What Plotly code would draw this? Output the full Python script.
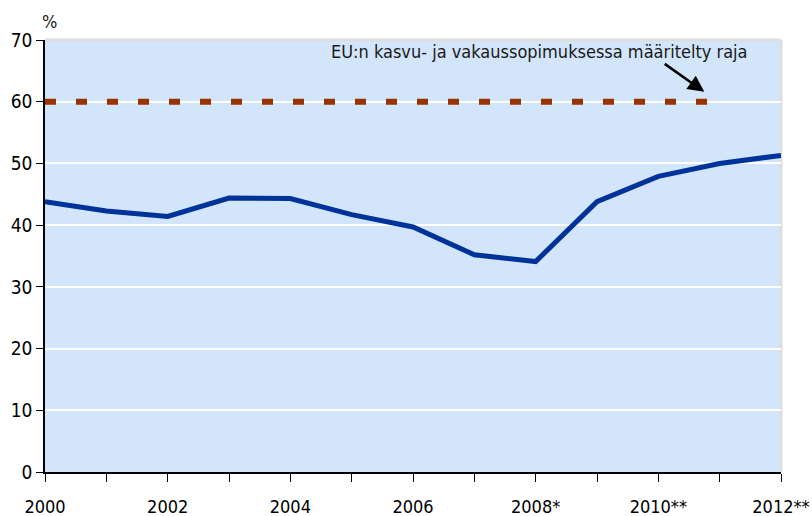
import plotly.graph_objects as go

# julkisen velan suhde BKT:hen, %
years = [2000, 2001, 2002, 2003, 2004, 2005, 2006, 2007, 2008, 2009, 2010, 2011, 2012]
debt = [43.8, 42.3, 41.4, 44.4, 44.3, 41.7, 39.7, 35.2, 34.1, 43.8, 47.9, 50.0, 51.3]

limit_years = [2000, 2011]
limit = [60, 60]

tick_years = years
tick_labels = ['2000', '', '2002', '', '2004', '', '2006', '', '2008*', '', '2010**', '', '2012**']

note = 'EU:n kasvu- ja vakaussopimuksessa määritelty raja'

font_family = 'DejaVu Sans Condensed, Liberation Sans Narrow, sans-serif'

fig = go.Figure()

fig.add_trace(go.Scatter(
    x=limit_years, y=limit, mode='lines',
    line=dict(color='#993300', width=6, dash='11px,20px'),
    showlegend=False, hoverinfo='skip'
))

fig.add_trace(go.Scatter(
    x=years, y=debt, mode='lines',
    line=dict(color='#003399', width=5),
    showlegend=False
))

# tekstinä selite ja nuoli
fig.add_annotation(x=2008.07, y=68.1, text=note, showarrow=False,
                   font=dict(size=18, color='#1a1a1a', family=font_family))
fig.add_annotation(x=2010.75, y=61.6, ax=2010.08, ay=66.3, axref='x', ayref='y',
                   text='', showarrow=True, arrowhead=2, arrowsize=1.3,
                   arrowwidth=2.5, arrowcolor='black')
fig.add_annotation(x=0.006, y=1.042, xref='paper', yref='paper', text='%',
                   showarrow=False, xanchor='center', yanchor='middle',
                   font=dict(size=18, color='#1a1a1a', family=font_family))

fig.update_xaxes(range=[2000, 2012], tickvals=tick_years, ticktext=tick_labels,
                 ticks='outside', ticklen=8, tickcolor='black', tickwidth=1,
                 showline=True, linecolor='black', linewidth=1.5,
                 showgrid=False, zeroline=False, ticklabelstandoff=10,
                 automargin=False,
                 tickfont=dict(size=18, color='black', family=font_family))
fig.update_yaxes(range=[0, 70], tickvals=[0, 10, 20, 30, 40, 50, 60, 70],
                 ticks='outside', ticklen=7, tickcolor='black', tickwidth=1,
                 showline=True, linecolor='black', linewidth=1.5,
                 showgrid=True, gridcolor='white', gridwidth=1.5, zeroline=False,
                 automargin=False,
                 tickfont=dict(size=19, color='black', family=font_family))

# harmaa reunus ylhäällä ja oikealla
fig.add_shape(type='line', xref='paper', yref='paper', x0=0, x1=1, y0=1, y1=1,
              line=dict(color='#DDDDDD', width=3), layer='below')
fig.add_shape(type='line', xref='paper', yref='paper', x0=1, x1=1, y0=0, y1=1,
              line=dict(color='#DDDDDD', width=3), layer='below')

fig.update_layout(
    width=812, height=516,
    margin=dict(l=45, r=31, t=40, b=44),
    plot_bgcolor='#D3E5FA', paper_bgcolor='white',
    font=dict(family=font_family)
)

# sivun oletusreunus pois, jotta kuva täyttää ikkunan
fig.write_html("out.html", config={'displayModeBar': False},
               post_script="document.body.style.margin='0';document.body.style.overflow='hidden';")
